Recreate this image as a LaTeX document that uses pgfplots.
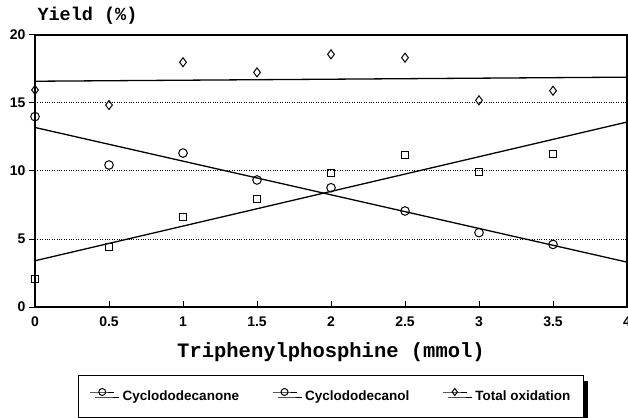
\documentclass[border=0pt]{standalone}
\usepackage{pgfplots}
\pgfplotsset{compat=1.18}
\usepackage{fontspec}
\setmainfont{Liberation Sans}
\newfontfamily\monof{Liberation Mono}
\usetikzlibrary{calc,shadows}
\begin{document}
\begin{tikzpicture}
\begin{axis}[
  scale only axis, width=592pt, height=272pt,
  xmin=0, xmax=4, ymin=0, ymax=20,
  xtick={0,0.5,1,1.5,2,2.5,3,3.5,4},
  xticklabels={0,0.5,1,1.5,2,2.5,3,3.5,4},
  ytick={0,5,10,15,20},
  yticklabels={0,5,10,15,20},
  xtick pos=left, ytick pos=left,
  xtick align=inside, ytick align=outside,
  major tick length=6pt,
  tick style={black, line width=1pt},
  axis line style={line width=1.3pt},
  ymajorgrids, grid style={dotted, line width=1pt, black},
  clip=false,
  ticklabel style={font=\fontsize{14}{14}\selectfont\bfseries},
  xticklabel style={yshift=-6pt},
  title={\monof\bfseries Yield (\%)},
  title style={at={(rel axis cs:0,1)}, anchor=base west, yshift=8pt, xshift=-1pt, font=\fontsize{18.5}{18.5}\selectfont},
  xlabel={\monof\bfseries Triphenylphosphine (mmol)},
  xlabel style={at={(rel axis cs:0.5,0)}, anchor=base, yshift=-50pt, font=\fontsize{20.5}{20.5}\selectfont},
  legend columns=3,
  legend style={at={(0.5,-0.25)}, anchor=north, draw=black, line width=1pt,
    font=\fontsize{13.5}{13.5}\selectfont\bfseries,
    inner xsep=11pt, inner ysep=13pt,
    drop shadow={shadow xshift=5pt, shadow yshift=-5pt, fill=black, opacity=1},
    /tikz/every odd column/.append style={column sep=6pt},
    /tikz/every even column/.append style={column sep=31pt}},
  legend image code/.code={\draw[mark repeat=2,mark phase=2] plot coordinates {(0pt,4.5pt)(12pt,4.5pt)(24pt,4.5pt)};},
]
\coordinate (bl) at (rel axis cs:0,0);
\coordinate (tr) at (rel axis cs:1,1);
% legend entries (as printed in the original)
\addlegendimage{black, line width=1pt, mark=o, mark size=3.5pt}
\addlegendentry{Cyclododecanone}
\addlegendimage{black, line width=1pt, mark=o, mark size=3.5pt}
\addlegendentry{Cyclododecanol}
\addlegendimage{black, line width=1pt, mark=diamond, mark size=3.5pt}
\addlegendentry{Total oxidation}
% Cyclododecanone
\addplot[only marks, mark=o, mark size=4.3pt, line width=1pt, black, forget plot] coordinates {
(0,14.0)(0.5,10.44)(1,11.32)(1.5,9.34)(2,8.77)(2.5,7.06)(3,5.47)(3.5,4.6)};
\addplot[no marks, black, line width=1.3pt, forget plot] coordinates {(0,13.2)(4,3.3)};
% Cyclododecanol
\addplot[only marks, mark=square, mark size=3.5pt, line width=1pt, black, forget plot] coordinates {
(0,2.03)(0.5,4.43)(1,6.64)(1.5,7.92)(2,9.83)(2.5,11.18)(3,9.9)(3.5,11.27)};
\addplot[no marks, black, line width=1.3pt, forget plot] coordinates {(0,3.4)(4,13.6)};
% Total oxidation
\addplot[only marks, mark=diamond, mark size=4.5pt, line width=1pt, black, forget plot] coordinates {
(0,15.96)(0.5,14.85)(1,18.0)(1.5,17.25)(2,18.58)(2.5,18.33)(3,15.2)(3.5,15.9)};
\addplot[no marks, black, line width=1.3pt, forget plot] coordinates {(0,16.6)(4,16.9)};
\end{axis}
\pgfresetboundingbox
\path ($(bl)+(-35pt,-110pt)$) rectangle ($(tr)+(1pt,35pt)$);
\end{tikzpicture}
\end{document}
